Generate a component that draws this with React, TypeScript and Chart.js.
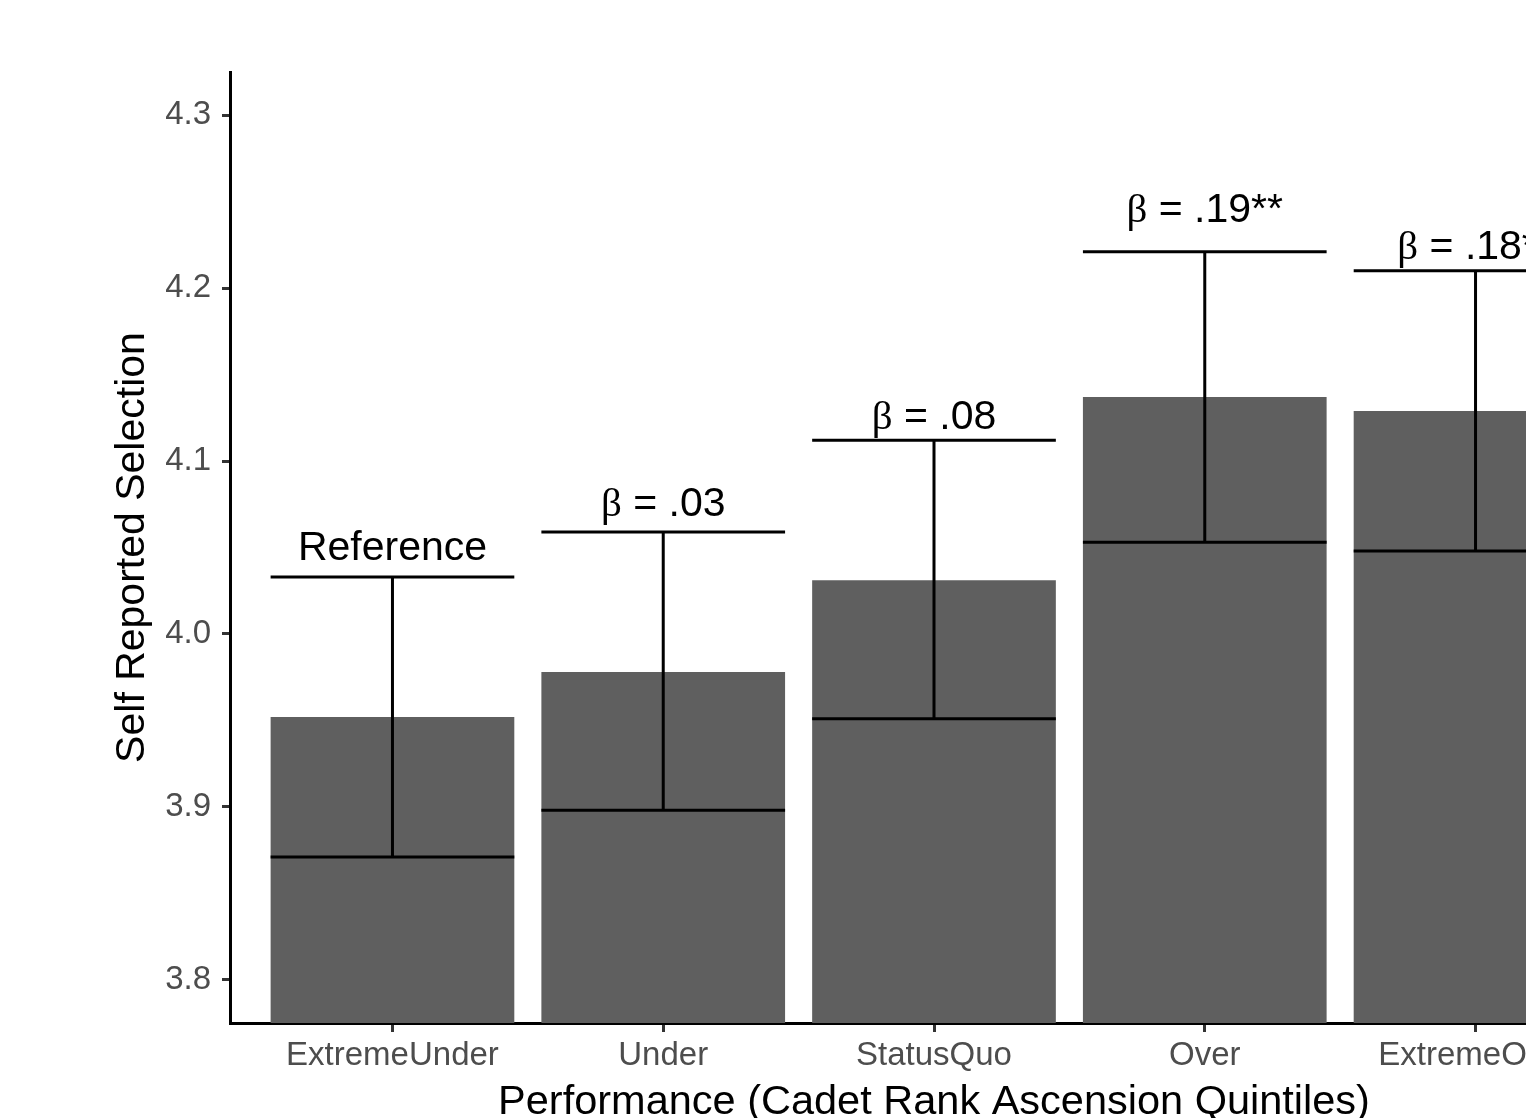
import { useEffect, useRef } from "react";
import { Chart, registerables } from "chart.js";

Chart.register(...registerables);

const categories = ["ExtremeUnder", "Under", "StatusQuo", "Over", "ExtremeOver"];
const means = [3.952, 3.978, 4.031, 4.137, 4.129];
const lowerCI = [3.871, 3.898, 3.951, 4.053, 4.048];
const upperCI = [4.033, 4.059, 4.112, 4.221, 4.21];
const annotations = ["Reference", "β = .03", "β = .08", "β = .19**", "β = .18**"];
const annotationY = [4.0425, 4.0685, 4.1187, 4.2382, 4.2169];
const yTicks = [3.8, 3.9, 4.0, 4.1, 4.2, 4.3];
const yTitle = "Self Reported Selection";
const xTitle = "Performance (Cadet Rank Ascension Quintiles)";

const SANS = "'Liberation Sans', Arial, Helvetica, sans-serif";
const SERIF = "'Liberation Serif', 'Times New Roman', serif";

const overlay = {
  id: "overlay",
  afterDatasetsDraw(chart: any) {
    const ctx = chart.ctx;
    const xs = chart.scales.x;
    const ys = chart.scales.y;
    const meta = chart.getDatasetMeta(0);
    ctx.save();
    ctx.strokeStyle = "#000";
    ctx.lineWidth = 3;
    ctx.lineCap = "butt";
    means.forEach((_, i) => {
      const cx = xs.getPixelForValue(i);
      const half = meta.data[i].width / 2;
      const yl = ys.getPixelForValue(lowerCI[i]);
      const yu = ys.getPixelForValue(upperCI[i]);
      ctx.beginPath();
      ctx.moveTo(cx - half, yu);
      ctx.lineTo(cx + half, yu);
      ctx.moveTo(cx, yu);
      ctx.lineTo(cx, yl);
      ctx.moveTo(cx - half, yl);
      ctx.lineTo(cx + half, yl);
      ctx.stroke();
    });
    ctx.restore();
  },
  afterDraw(chart: any) {
    const ctx = chart.ctx;
    const xs = chart.scales.x;
    const ys = chart.scales.y;
    const area = chart.chartArea;
    ctx.save();
    ctx.fillStyle = "#000";
    ctx.textBaseline = "alphabetic";
    // annotations
    annotations.forEach((label, i) => {
      const cx = xs.getPixelForValue(i);
      const by = ys.getPixelForValue(annotationY[i]);
      if (label.startsWith("β")) {
        const rest = label.slice(1);
        ctx.font = `41px ${SERIF}`;
        const wb = ctx.measureText("β").width;
        ctx.font = `41px ${SANS}`;
        const wr = ctx.measureText(rest).width;
        const start = cx - (wb + wr) / 2;
        ctx.textAlign = "left";
        ctx.font = `41px ${SERIF}`;
        ctx.fillText("β", start, by);
        ctx.font = `41px ${SANS}`;
        ctx.fillText(rest, start + wb, by);
      } else {
        ctx.font = `41px ${SANS}`;
        ctx.textAlign = "center";
        ctx.fillText(label, cx, by);
      }
    });
    // x title
    ctx.font = `41.5px ${SANS}`;
    ctx.textAlign = "center";
    ctx.fillText(xTitle, (area.left + area.right) / 2, area.bottom + 91);
    // y title
    ctx.font = `41px ${SANS}`;
    ctx.translate(area.left - 86, (area.top + area.bottom) / 2);
    ctx.rotate(-Math.PI / 2);
    ctx.fillText(yTitle, 0, 0);
    ctx.restore();
  },
};

export default function App() {
  const ref = useRef<HTMLCanvasElement | null>(null);
  useEffect(() => {
    if (!ref.current) return;
    const chart = new Chart(ref.current, {
      type: "bar",
      data: {
        datasets: [
          {
            data: means.map((v, i) => ({ x: i, y: v })),
            backgroundColor: "#5f5f5f",
            borderWidth: 0,
            barPercentage: 0.9,
            categoryPercentage: 1.0,
          },
        ],
      },
      options: {
        animation: false,
        responsive: false,
        events: [],
        layout: { padding: { left: 0, top: 72, right: 22, bottom: 0 } },
        plugins: {
          legend: { display: false },
          tooltip: { enabled: false },
          title: { display: false },
        },
        scales: {
          x: {
            type: "linear",
            min: -0.6,
            max: 4.6,
            offset: false,
            z: 1,
            afterBuildTicks: (s: any) => {
              s.ticks = categories.map((_, i) => ({ value: i }));
            },
            afterFit: (s: any) => {
              s.height = 95;
            },
            ticks: {
              callback: (v: any) => categories[Math.round(Number(v))] ?? "",
              font: { family: SANS, size: 33 },
              color: "#4d4d4d",
              padding: 4,
              maxRotation: 0,
              minRotation: 0,
              autoSkip: false,
            },
            grid: {
              display: true,
              offset: false,
              drawOnChartArea: false,
              drawTicks: true,
              tickLength: 9,
              tickWidth: 3,
              tickColor: "#333333",
            },
            border: { display: true, color: "#000", width: 3 },
          },
          y: {
            type: "linear",
            min: 3.775,
            max: 4.325,
            z: 1,
            afterBuildTicks: (s: any) => {
              s.ticks = yTicks.map((v) => ({ value: v }));
            },
            afterFit: (s: any) => {
              s.width = 230;
            },
            ticks: {
              callback: (v: any) => Number(v).toFixed(1),
              font: { family: SANS, size: 33 },
              color: "#4d4d4d",
              padding: 11,
            },
            grid: {
              display: true,
              drawOnChartArea: false,
              drawTicks: true,
              tickLength: 8,
              tickWidth: 3,
              tickColor: "#333333",
            },
            border: { display: true, color: "#000", width: 3 },
          },
        },
      },
      plugins: [overlay],
    } as any);
    return () => chart.destroy();
  }, []);
  return (
    <div
      style={{
        position: "fixed",
        left: 0,
        top: 0,
        width: 1526,
        height: 1118,
        overflow: "hidden",
        background: "#fff",
      }}
    >
      <canvas ref={ref} width={1660} height={1118} style={{ display: "block" }} />
    </div>
  );
}
